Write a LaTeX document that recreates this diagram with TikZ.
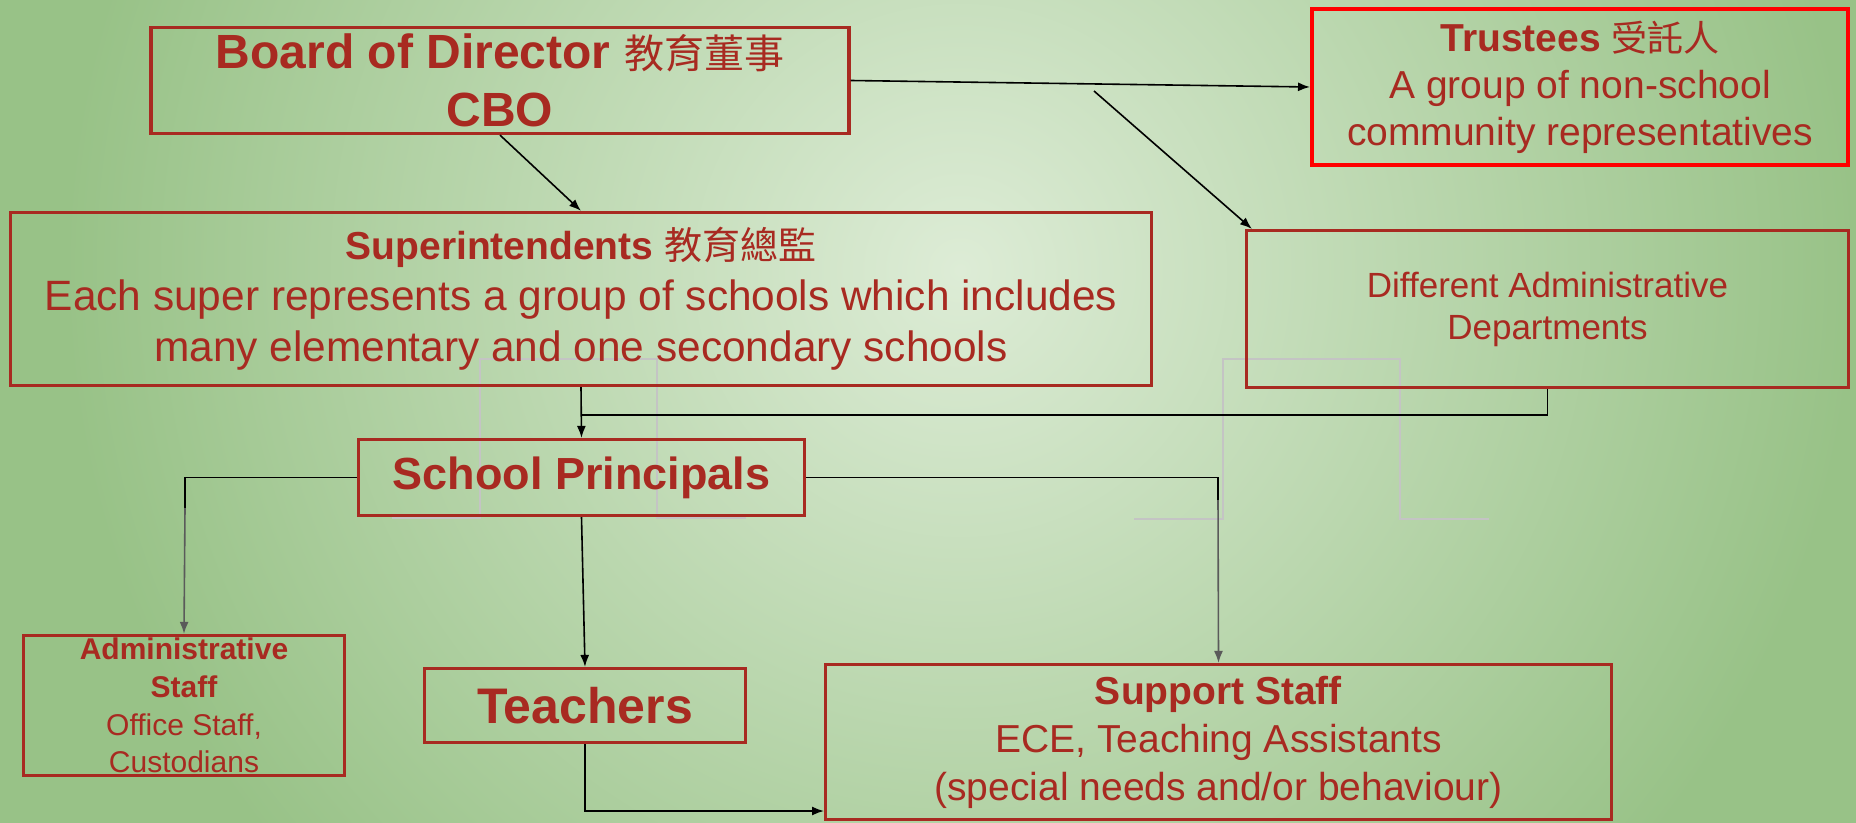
\documentclass[tikz,border=0pt]{standalone}
\usepackage{fontspec}
\setmainfont{Liberation Sans}
\newfontfamily\cjk{Noto Sans CJK TC}
\usetikzlibrary{arrows.meta}
\definecolor{boxred}{RGB}{168,42,33}
\definecolor{bglight}{RGB}{221,236,214}
\definecolor{bgdark}{RGB}{152,194,135}
\definecolor{faint}{RGB}{196,196,196}
\definecolor{linkgray}{RGB}{90,90,90}
\pgfdeclareradialshading{bgglow}{\pgfpoint{0bp}{0bp}}{color(0bp)=(bglight); color(20bp)=(bgdark); color(50bp)=(bgdark)}
\tikzset{
    box/.style={draw=boxred,line width=1.6pt,text=boxred,align=center,inner sep=0pt},
    link/.style={line width=0.8pt,-{Latex[length=6pt,width=4.5pt]}},
    graylink/.style={link,draw=linkgray},
    faintline/.style={draw=faint,line width=0.9pt}
}

\begin{document}
\begin{tikzpicture}[x=0.5pt,y=-0.5pt]
    \useasboundingbox (0,0) rectangle (1856,823);
    \begin{scope}
        \clip (0,0) rectangle (1856,823);
        \shade[shading=bgglow] (960,270) circle[radius=560pt];
    \end{scope}
    % leftover outlines
    \draw[faintline] (392,518) -- (480,518) -- (480,359) -- (657,359) -- (657,518) -- (746,518);
    \draw[faintline] (1134,519) -- (1223,519) -- (1223,359) -- (1400,359) -- (1400,519) -- (1489,519);

    \node[box,minimum width=349pt,minimum height=53pt,font=\bfseries\fontsize{24}{29}\selectfont] (board) at (500,80.5)
        {Board of Director {\cjk\mdseries\fontsize{20}{29}\selectfont 教育董事}\\CBO};
    \node[box,draw=red,line width=2pt,minimum width=268pt,minimum height=78pt,font=\fontsize{19.5}{23.5}\selectfont] (trustees) at (1580,87)
        {\textbf{Trustees {\cjk\mdseries\fontsize{18}{23.5}\selectfont 受託人}}\\A group of non-school\\community representatives};
    \node[box,minimum width=301pt,minimum height=78.5pt,font=\fontsize{17.5}{21}\selectfont] (depts) at (1547.5,309)
        {Different Administrative\\Departments};
    \node[box,minimum width=570.5pt,minimum height=86.5pt,font=\fontsize{21.2}{25.5}\selectfont] (supers) at (581,299)
        {{\bfseries\fontsize{19.5}{25.5}\selectfont Superintendents {\cjk\mdseries\fontsize{19}{25.5}\selectfont 教育總監}}\\Each super represents a group of schools which includes\\many elementary and one secondary schools};
    \node[box,minimum width=223pt,minimum height=38pt,font=\bfseries\fontsize{22.5}{27}\selectfont] (principals) at (581.5,477.5)
        {School Principals};
    \node[box,minimum width=160.5pt,minimum height=70pt,font=\fontsize{15}{18.8}\selectfont] (admin) at (184,705.5)
        {\textbf{Administrative}\\\textbf{Staff}\\Office Staff,\\Custodians};
    \node[box,minimum width=160.5pt,minimum height=37pt,font=\bfseries\fontsize{25}{30}\selectfont] (teachers) at (585,705.5)
        {Teachers};
    \node[box,minimum width=393pt,minimum height=77.5pt,font=\fontsize{19.5}{24}\selectfont] (support) at (1218.5,742)
        {\textbf{Support Staff}\\ECE, Teaching Assistants\\(special needs and/or behaviour)};

    \coordinate (deptsfrom) at (1094,91);
    \coordinate (deptsjoin) at (581,415);
    \coordinate (adminbend) at (185,508);
    \coordinate (supportbend) at (1218,500);
    \coordinate (supportin) at (824,811);

    \draw[link] (board.south) -- (supers.north);
    \draw[link] (board.east) -- (trustees.west);
    \draw[link] (deptsfrom) -- ([xshift=3.5pt]depts.north west);
    \draw[link] (supers.south) -- (principals.north);
    \draw[line width=0.8pt] (depts.south) |- (deptsjoin);
    \draw[line width=0.8pt] (principals.west) -| (adminbend);
    \draw[graylink] (adminbend) -- (admin.north);
    \draw[link] (principals.south) -- (teachers.north);
    \draw[line width=0.8pt] (principals.east) -| (supportbend);
    \draw[graylink] (supportbend) -- (support.north);
    \draw[link] (teachers.south) |- (supportin);
\end{tikzpicture}
\end{document}
